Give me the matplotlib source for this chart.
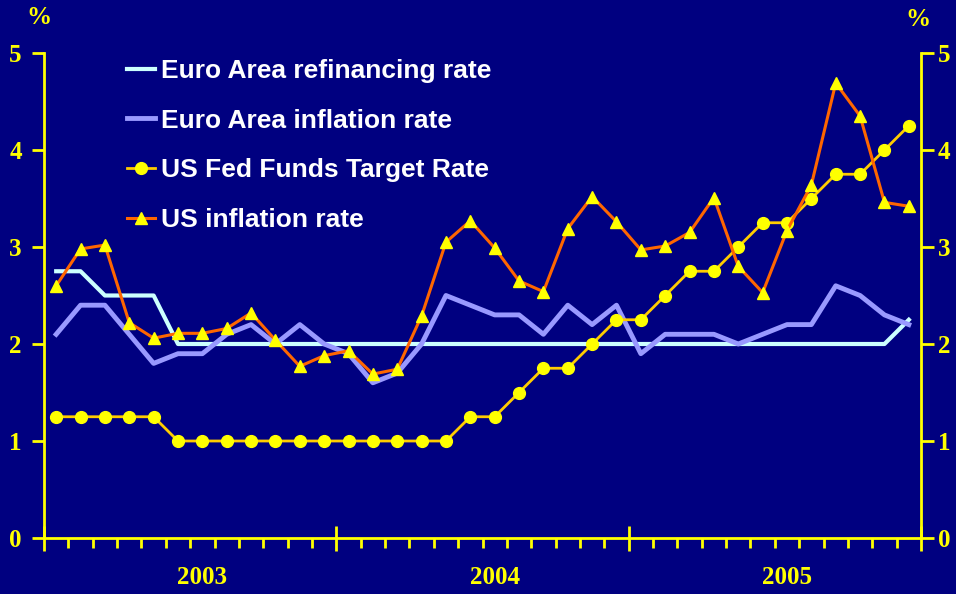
import matplotlib
matplotlib.use("Agg")
import matplotlib.pyplot as plt
import matplotlib.transforms as mtransforms
from matplotlib.ticker import MultipleLocator

# monthly data, Jan 2003 - Dec 2005
years = ["2003", "2004", "2005"]
euro_refi = [2.75, 2.75, 2.5, 2.5, 2.5, 2.0, 2.0, 2.0, 2.0, 2.0, 2.0, 2.0,
             2.0, 2.0, 2.0, 2.0, 2.0, 2.0, 2.0, 2.0, 2.0, 2.0, 2.0, 2.0,
             2.0, 2.0, 2.0, 2.0, 2.0, 2.0, 2.0, 2.0, 2.0, 2.0, 2.0, 2.25]
euro_infl = [2.1, 2.4, 2.4, 2.1, 1.8, 1.9, 1.9, 2.1, 2.2, 2.0, 2.2, 2.0,
             1.9, 1.6, 1.7, 2.0, 2.5, 2.4, 2.3, 2.3, 2.1, 2.4, 2.2, 2.4,
             1.9, 2.1, 2.1, 2.1, 2.0, 2.1, 2.2, 2.2, 2.6, 2.5, 2.3, 2.2]
us_fed = [1.25, 1.25, 1.25, 1.25, 1.25, 1.0, 1.0, 1.0, 1.0, 1.0, 1.0, 1.0,
          1.0, 1.0, 1.0, 1.0, 1.0, 1.25, 1.25, 1.5, 1.75, 1.75, 2.0, 2.25,
          2.25, 2.5, 2.75, 2.75, 3.0, 3.25, 3.25, 3.5, 3.75, 3.75, 4.0, 4.25]
us_infl = [2.6, 2.98, 3.02, 2.22, 2.06, 2.11, 2.11, 2.16, 2.32, 2.04, 1.77, 1.88,
           1.93, 1.69, 1.74, 2.29, 3.05, 3.27, 2.99, 2.65, 2.54, 3.19, 3.52, 3.26,
           2.97, 3.01, 3.15, 3.51, 2.80, 2.53, 3.17, 3.64, 4.69, 4.35, 3.46, 3.42]

navy = "#000080"
yel = "#FFFF00"

fig = plt.figure(figsize=(9.56, 5.94), dpi=100, facecolor=navy)
ax = fig.add_axes([44/956, 1-538/594, (921-44)/956, (538-53)/594])
ax.set_facecolor(navy)

x = [i + 0.5 for i in range(len(euro_refi))]
ax.plot(x, euro_refi, color="#CCFFFF", lw=3, label="Euro Area refinancing rate")
ax.plot(x, euro_infl, color="#9999FF", lw=3.5, label="Euro Area inflation rate")
ax.plot(x, us_fed, color="#FFCC00", lw=2, marker="o", ms=8.5,
        mfc=yel, mec=yel, label="US Fed Funds Target Rate")
ax.plot(x, us_infl, color="#FF6600", lw=2.2, marker="^", ms=9,
        mfc=yel, mec=yel, label="US inflation rate")

ax.set_xlim(0, 36)
ax.set_ylim(0, 5)
for s in ["top", "right"]:
    ax.spines[s].set_visible(False)
for s in ["left", "bottom"]:
    ax.spines[s].set_color(yel)
    ax.spines[s].set_linewidth(2)

ax.xaxis.set_major_locator(MultipleLocator(12))
ax.xaxis.set_minor_locator(MultipleLocator(1))
ax.tick_params(axis="x", which="major", direction="inout", length=18, width=2,
               color=yel, labelbottom=False)
ax.tick_params(axis="x", which="minor", direction="out", length=7, width=2, color=yel)
ax.set_yticks(range(6))
tfont = dict(family="Liberation Serif", weight="bold", size=18)
ax.tick_params(axis="y", direction="out", length=9, width=2, color=yel,
               labelcolor=yel, pad=7)
for lab in ax.get_yticklabels():
    lab.set_fontproperties(tfont)

ax2 = ax.twinx()
ax2.set_ylim(0, 5)
ax2.set_yticks(range(6))
for s in ["top", "left", "bottom"]:
    ax2.spines[s].set_visible(False)
ax2.spines["right"].set_color(yel)
ax2.spines["right"].set_linewidth(2)
ax2.tick_params(axis="y", direction="out", length=9, width=2, color=yel,
                labelcolor=yel, pad=3)
for lab in ax2.get_yticklabels():
    lab.set_fontproperties(tfont)

# year labels
trans = mtransforms.blended_transform_factory(ax.transData, fig.transFigure)
for i, yr in enumerate(years):
    ax.text(i * 12 + 6.5, 1 - 578/594, yr, transform=trans, ha="center", va="center",
            color=yel, **tfont)

fig.text(39/956, 1 - 18/594, "%", ha="center", va="center", color=yel, **tfont)
fig.text(918/956, 1 - 20/594, "%", ha="center", va="center", color=yel, **tfont)

leg = ax.legend(loc="upper left", bbox_to_anchor=(127/956, 1 - 59/594),
                bbox_transform=fig.transFigure, frameon=False, borderpad=0,
                borderaxespad=0, handlelength=1.05, handletextpad=0.25,
                labelspacing=0.97, numpoints=1,
                prop=dict(family="Liberation Sans", weight="bold", size=19))
for t in leg.get_texts():
    t.set_color("white")

fig.savefig("out.png", dpi=100, facecolor=navy)
